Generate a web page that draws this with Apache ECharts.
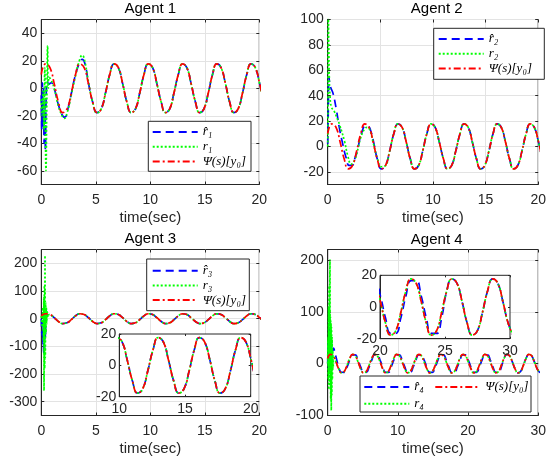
<!DOCTYPE html>
<html>
<head>
<meta charset="utf-8">
<script src="https://cdn.jsdelivr.net/npm/echarts@6/dist/echarts.min.js"></script>
<style>
  html, body { margin: 0; padding: 0; background: #fff; }
  #main { width: 549px; height: 466px; }
</style>
</head>
<body>
<div id="main"></div>
<script>
  var psi = [
    [0, 10], [0.39, 17.7], [0.79, 15], [1.18, 3.5], [1.57, -10], [1.96, -17.7], [2.36, -15], [2.75, -3.5],
    [3.14, 10], [3.53, 17.7], [3.93, 15], [4.32, 3.5], [4.71, -10], [5.11, -17.7], [5.50, -15], [5.89, -3.5],
    [6.28, 10], [6.68, 17.7], [7.07, 15], [7.46, 3.5], [7.85, -10], [8.25, -17.7], [8.64, -15], [9.03, -3.5],
    [9.42, 10], [9.82, 17.7], [10.21, 15], [10.60, 3.5], [11.00, -10], [11.39, -17.7], [11.78, -15], [12.17, -3.5],
    [12.57, 10], [12.96, 17.7], [13.35, 15], [13.74, 3.5], [14.14, -10], [14.53, -17.7], [14.92, -15], [15.32, -3.5],
    [15.71, 10], [16.10, 17.7], [16.49, 15], [16.89, 3.5], [17.28, -10], [17.67, -17.7], [18.06, -15], [18.46, -3.5],
    [18.85, 10], [19.24, 17.7], [19.63, 15], [20.03, 3.5], [20.42, -10], [20.81, -17.7], [21.21, -15], [21.60, -3.5],
    [21.99, 10], [22.38, 17.7], [22.78, 15], [23.17, 3.5], [23.56, -10], [23.95, -17.7], [24.35, -15], [24.74, -3.5],
    [25.13, 10], [25.53, 17.7], [25.92, 15], [26.31, 3.5], [26.70, -10], [27.10, -17.7], [27.49, -15], [27.88, -3.5],
    [28.27, 10], [28.67, 17.7], [29.06, 15], [29.45, 3.5], [29.85, -10], [30.24, -17.7]
  ];

  // transients of the estimates (r hat) and the signals (r)
  var hat1Head = [[0, -5], [0.05, -30], [0.1, 4], [0.15, -28], [0.2, 2], [0.26, -40], [0.32, -12], [0.38, -45],
    [0.45, -5], [0.55, 5], [0.7, 3], [0.9, 4], [1.18, 0], [1.57, -12], [1.96, -20], [2.15, -21], [2.5, -13],
    [2.75, -4], [3.14, 10], [3.53, 19], [3.75, 21], [4.0, 18], [4.32, 4], [4.71, -10], [5.11, -17.7]];
  var r1Head = [[0, -8], [0.08, -20], [0.16, -2], [0.24, -30], [0.32, 15], [0.43, -60], [0.5, -15], [0.58, 31],
    [0.64, 0], [0.72, 8], [0.9, 6], [1.18, 0], [1.57, -13], [1.96, -21], [2.1, -22], [2.4, -17], [2.75, -5],
    [3.14, 9], [3.53, 21], [3.75, 24], [3.95, 21], [4.32, 5], [4.71, -10], [5.11, -18]];

  var hat2Head = [[0, 2], [0.05, 25], [0.12, 55], [0.18, 50], [0.3, 46], [0.5, 42], [0.8, 30], [1.1, 15],
    [1.4, 3], [1.75, -9], [2.05, -15], [2.3, -15], [2.6, -9], [2.9, 0], [3.2, 10], [3.6, 16], [3.8, 16],
    [4.1, 12], [4.4, 2], [4.71, -10], [5.11, -17.7]];
  var r2Head = [[0, 0], [0.03, 20], [0.06, 105], [0.1, 80], [0.15, 55], [0.22, 40], [0.35, 31], [0.6, 28],
    [0.9, 22], [1.13, 17], [1.6, 4], [1.9, -7], [2.25, -14], [2.6, -10], [2.9, -1], [3.14, 7], [3.53, 14],
    [3.75, 15], [4.0, 13], [4.32, 3], [4.71, -9], [5.11, -16], [5.5, -15], [5.89, -3.5]];

  var hat3Head = [[0, 0], [0.06, -60], [0.1, -10], [0.14, -90], [0.18, -20], [0.22, -130], [0.26, -40],
    [0.3, -110], [0.34, -10], [0.38, -70], [0.42, 5], [0.5, 15], [0.6, 10], [0.8, 15], [1.0, 10], [1.18, 3.5],
    [1.57, -10]];
  var r3Head = [[0, 10], [0.1, -30], [0.15, 40], [0.2, -80], [0.23, 80], [0.25, -260], [0.28, 120], [0.31, -180],
    [0.34, 228], [0.37, -140], [0.4, 60], [0.43, -50], [0.46, 40], [0.5, -20], [0.55, 25], [0.62, 5], [0.7, 15],
    [0.85, 14], [1.0, 10], [1.18, 3.5], [1.57, -10]];

  var hat4Head = [[0, 0], [0.08, 40], [0.16, -20], [0.24, 60], [0.3, 85], [0.36, 0], [0.42, 50], [0.5, 20],
    [0.58, 40], [0.7, 25], [0.85, 30], [1.0, 22], [1.2, 12]];
  // r hat 4 lags the reference a little until ~25 s
  var hat4Lag = [
    [1.57, -6.8], [1.96, -16.6], [2.36, -16.7], [2.75, -6.9],
    [3.14, 6.8], [3.53, 16.6], [3.93, 16.7], [4.32, 6.9], [4.71, -6.8], [5.11, -16.6], [5.50, -16.7], [5.89, -6.9],
    [6.28, 6.8], [6.68, 16.6], [7.07, 16.7], [7.46, 6.9], [7.85, -6.8], [8.25, -16.6], [8.64, -16.7], [9.03, -6.9],
    [9.42, 6.8], [9.82, 16.6], [10.21, 16.7], [10.60, 6.9], [11.00, -6.8], [11.39, -16.6], [11.78, -16.7], [12.17, -6.9],
    [12.57, 6.8], [12.96, 16.6], [13.35, 16.7], [13.74, 6.9], [14.14, -6.8], [14.53, -16.6], [14.92, -16.7], [15.32, -6.9],
    [15.71, 6.8], [16.10, 16.6], [16.49, 16.7], [16.89, 6.9], [17.28, -6.8], [17.67, -16.6], [18.06, -16.7], [18.46, -6.9],
    [18.85, 6.8], [19.24, 16.6], [19.63, 16.7], [20.03, 6.9], [20.42, -6.8], [20.81, -16.6], [21.21, -16.7], [21.60, -6.9],
    [21.99, 6.8], [22.38, 16.6], [22.78, 16.7], [23.17, 6.9], [23.56, -6.8], [23.95, -16.6], [24.35, -16.7], [24.74, -6.9]
  ];
  var r4Head = [[0, 0], [0.04, 50], [0.08, -30], [0.12, 110], [0.16, -50], [0.2, 150], [0.24, -40], [0.28, 120],
    [0.32, 200], [0.35, -20], [0.39, 90], [0.43, -70], [0.47, 80], [0.51, -90], [0.55, 70], [0.59, -60],
    [0.63, 50], [0.67, -30], [0.72, 25], [0.78, -10], [0.85, 15], [0.95, 12], [1.18, 3.5], [1.57, -10]];

  // tick labels
  var xTicks20 = [0, 5, 10, 15, 20];
  var xTicks30 = [0, 10, 20, 30];
  var yTicks1 = [-60, -40, -20, 0, 20, 40];
  var yTicks2 = [-20, 0, 20, 40, 60, 80, 100];
  var yTicks3 = [-300, -200, -100, 0, 100, 200];
  var yTicks4 = [-100, 0, 100, 200];
  var inset3X = [10, 15, 20];
  var inset4X = [20, 25, 30];
  var insetY = [-20, 0, 20];

  var PSI = 'Ψ(s)[y₀]';
  var names = [['r̂₁', 'r₁'], ['r̂₂', 'r₂'], ['r̂₃', 'r₃'], ['r̂₄', 'r₄']];

  function after(t) {
    return psi.filter(function (p) { return p[0] > t; });
  }
  var hat1 = hat1Head.concat(after(5.2)), r1 = r1Head.concat(after(5.2));
  var hat2 = hat2Head.concat(after(5.2)), r2 = r2Head.concat(after(6.0));
  var hat3 = hat3Head.concat(after(1.6)), r3 = r3Head.concat(after(1.6));
  var hat4 = hat4Head.concat(hat4Lag, after(25)), r4 = r4Head.concat(after(1.6));

  var ink = '#262626';
  var sans = 'Liberation Sans, Arial, Helvetica, sans-serif';
  var serif = 'Liberation Serif, DejaVu Serif, serif';

  var grids = [], xAxes = [], yAxes = [], series = [];

  function panel(box, xr, yr, xt, yt, inset) {
    var gi = grids.length;
    var zl = inset ? 1 : 0;
    var tl = inset ? 2 : 3;
    grids.push({
      left: box[0], top: box[1], width: box[2], height: box[3],
      show: true, borderColor: ink, borderWidth: 1, backgroundColor: '#fff', zlevel: zl
    });
    xAxes.push({
      gridIndex: gi, type: 'value', min: xr[0], max: xr[1], position: 'bottom', zlevel: zl,
      axisLine: { show: true, onZero: false, lineStyle: { color: ink, width: 1 } },
      axisTick: { show: true, inside: true, length: tl, customValues: xt, lineStyle: { color: ink } },
      axisLabel: { customValues: xt, margin: inset ? 5 : 9, color: ink, fontSize: 14, fontFamily: sans },
      splitLine: { show: !inset, lineStyle: { color: '#e3e3e3', width: 1 } },
      name: inset ? '' : 'time(sec)', nameLocation: 'middle', nameGap: 26,
      nameTextStyle: { color: ink, fontSize: 15, fontFamily: sans }
    });
    xAxes.push({
      gridIndex: gi, type: 'value', min: xr[0], max: xr[1], position: 'top', zlevel: zl,
      axisLine: { show: false, onZero: false },
      axisTick: { show: true, inside: true, length: tl, customValues: xt, lineStyle: { color: ink } },
      axisLabel: { show: false }, splitLine: { show: false }
    });
    yAxes.push({
      gridIndex: gi, type: 'value', min: yr[0], max: yr[1], position: 'left', zlevel: zl,
      axisLine: { show: true, onZero: false, lineStyle: { color: ink, width: 1 } },
      axisTick: { show: true, inside: true, length: tl, customValues: yt, lineStyle: { color: ink } },
      axisLabel: { customValues: yt, margin: inset ? 3 : 4, color: ink, fontSize: 14, fontFamily: sans },
      splitLine: { show: !inset, lineStyle: { color: '#e3e3e3', width: 1 } }
    });
    yAxes.push({
      gridIndex: gi, type: 'value', min: yr[0], max: yr[1], position: 'right', zlevel: zl,
      axisLine: { show: false, onZero: false },
      axisTick: { show: true, inside: true, length: tl, customValues: yt, lineStyle: { color: ink } },
      axisLabel: { show: false }, splitLine: { show: false }
    });
    return { x: xAxes.length - 2, y: yAxes.length - 2, zl: zl };
  }

  var styles = {
    hat: { color: '#0000ff', type: [8, 5] },
    r: { color: '#00ff00', type: [2, 2] },
    psi: { color: '#ff0000', type: [7, 3, 2, 3] }
  };

  function line(name, data, kind, ax) {
    var s = styles[kind];
    series.push({
      type: 'line', name: name, data: data, xAxisIndex: ax.x, yAxisIndex: ax.y, zlevel: ax.zl,
      showSymbol: false, symbol: 'none', smooth: 0.5, silent: true, animation: false,
      lineStyle: { color: s.color, width: 1.7, type: s.type }, itemStyle: { color: s.color }
    });
  }

  function agent(i, box, xr, yr, xt, yt, hat, r) {
    var ax = panel(box, xr, yr, xt, yt, false);
    line(names[i][0], hat, 'hat', ax);
    line(names[i][1], r, 'r', ax);
    line(PSI, psi, 'psi', ax);
  }
  function inset(i, box, xr, xt, hat, r) {
    var ax = panel(box, xr, [-20, 20], xt, insetY, true);
    line(names[i][0], hat, 'hat', ax);
    line(names[i][1], r, 'r', ax);
    line(PSI, psi, 'psi', ax);
  }

  agent(0, [41.3, 19.5, 218, 165], [0, 20], [-70, 50], xTicks20, yTicks1, hat1, r1);
  agent(1, [327.7, 19.5, 218, 165], [0, 20], [-30, 100], xTicks20, yTicks2, hat2, r2);
  agent(2, [41.3, 249.5, 218, 166], [0, 20], [-350, 250], xTicks20, yTicks3, hat3, r3);
  agent(3, [327.7, 249.5, 218, 166], [0, 30], [-100, 220], xTicks30, yTicks4, hat4, r4);
  inset(2, [119.3, 334, 131.4, 62.7], [10, 20], inset3X, hat3, r3);
  inset(3, [380, 275.3, 130, 63.4], [20, 30], inset4X, hat4, r4);

  function titleAt(text, x, y) {
    return {
      text: text, left: x, top: y, textAlign: 'center', padding: 0,
      textStyle: { fontSize: 15, fontWeight: 'normal', color: '#000', fontFamily: sans }
    };
  }

  var legendText = { fontFamily: serif, fontStyle: 'italic', fontSize: 13, color: '#000', lineHeight: 14 };
  function legendAt(data, x, y) {
    return {
      data: data, left: x, top: y, orient: 'vertical', padding: 0,
      itemWidth: 45, itemHeight: 14, itemGap: 0.7, selectedMode: false,
      itemStyle: { opacity: 0 },
      textStyle: legendText
    };
  }

  // legend frames
  var frames = [[148.3, 121.3, 102.7, 50], [433.7, 28.3, 110.6, 51], [146.7, 259, 102.6, 51.7], [360, 376, 171, 36]];

  var chart = echarts.init(document.getElementById('main'), null, { renderer: 'canvas' });
  chart.setOption({
    animation: false,
    backgroundColor: '#fff',
    title: [
      titleAt('Agent 1', 150.3, 1.5), titleAt('Agent 2', 436.7, 1.5),
      titleAt('Agent 3', 150.3, 231.5), titleAt('Agent 4', 436.7, 232)
    ],
    grid: grids,
    xAxis: xAxes,
    yAxis: yAxes,
    series: series,
    legend: [
      legendAt([names[0][0], names[0][1], PSI], 151.7, 125),
      legendAt([names[1][0], names[1][1], PSI], 437.7, 32),
      legendAt([names[2][0], names[2][1], PSI], 151.7, 263.7),
      legendAt([names[3][0]], 363.3, 380),
      legendAt([PSI], 434.3, 380),
      legendAt([names[3][1]], 363.3, 396.7)
    ],
    graphic: frames.map(function (f) {
      return {
        type: 'rect', z: 3, silent: true,
        shape: { x: f[0], y: f[1], width: f[2], height: f[3] },
        style: { fill: '#fff', stroke: ink, lineWidth: 1 }
      };
    })
  });
</script>
</body>
</html>
